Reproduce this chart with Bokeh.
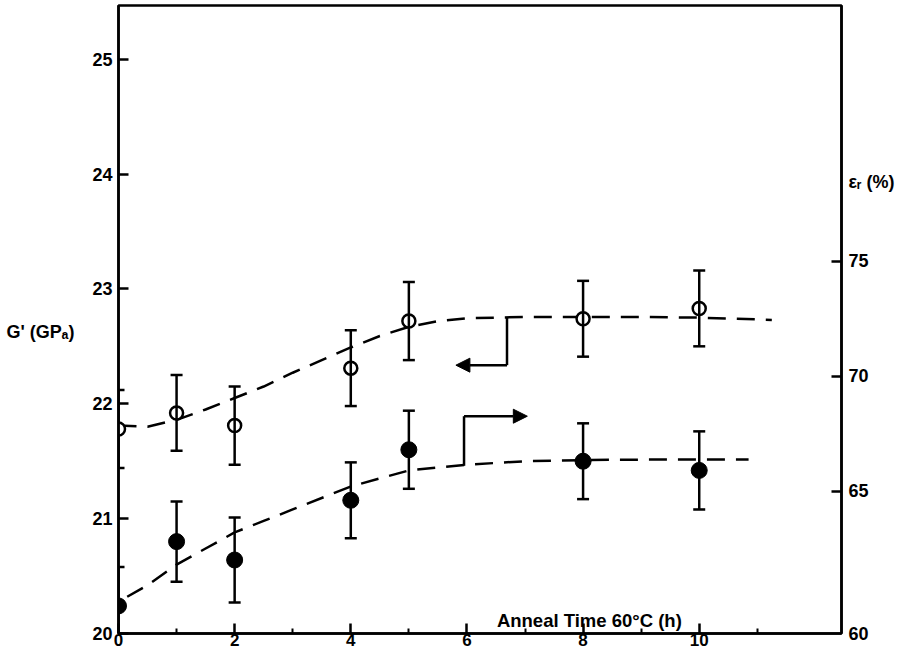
from bokeh.plotting import figure
from bokeh.models import (Range1d, LinearAxis, FixedTicker, Whisker, TeeHead,
                          ColumnDataSource, Arrow, NormalHead, Label)
from bokeh.embed import file_html
from bokeh.resources import INLINE

# ---- data ----
hours = [0, 1, 2, 4, 5, 8, 10]
shear_modulus = [21.78, 21.92, 21.81, 22.31, 22.72, 22.74, 22.83]   # G' (GPa), open circles
shear_err = [0.34, 0.33, 0.34, 0.33, 0.34, 0.33, 0.33]
strain = [60.0, 62.8, 62.0, 64.6, 66.8, 66.3, 65.9]                 # eps_r (%), filled circles
strain_err = [1.7, 1.75, 1.85, 1.65, 1.7, 1.65, 1.7]

modulus_fit_hours = [0, 0.5, 1, 1.5, 2, 2.5, 3, 3.5, 4, 4.5, 5, 5.5, 6, 7, 8, 9, 10, 11.25]
modulus_fit = [21.81, 21.80, 21.86, 21.95, 22.05, 22.15, 22.27, 22.38, 22.49, 22.59,
               22.67, 22.72, 22.745, 22.755, 22.755, 22.755, 22.75, 22.73]
strain_fit_hours = [0.15, 0.5, 1, 1.5, 2, 2.5, 3, 4, 5, 6, 7, 8, 9, 10, 10.85]
strain_fit = [60.4, 60.9, 61.8, 62.5, 63.2, 63.7, 64.2, 65.2, 65.9, 66.15, 66.3, 66.35,
              66.37, 66.38, 66.38]

modulus_bracket_x = [6.69, 6.69, 5.81]
modulus_bracket_y = [22.75, 22.336, 22.336]
strain_bracket_x = [5.95, 5.95, 7.04]
strain_bracket_y = [66.1, 68.26, 68.26]

x_ticks = [0, 2, 4, 6, 8, 10]
x_minor_ticks = [1, 3, 5, 7, 9, 11]
left_ticks = [20, 21, 22, 23, 24, 25]
right_tick_marks = [65, 70, 75]
# right-axis labels; "60" sits at the bottom corner, the axis title rides on the same axis
right_label_values = [58.8, 65, 70, 75, 78.45]
right_labels = ["60", "65", "70", "75", "εᵣ (%)"]

FONT = "Liberation Sans"

p = figure(width=900, height=650, x_range=Range1d(0, 12.45), y_range=Range1d(20, 25.467),
           output_backend="svg", toolbar_location=None,
           min_border_left=118, min_border_right=59, min_border_top=5, min_border_bottom=17)
p.extra_y_ranges = {"strain": Range1d(58.8, 86.14)}
p.xgrid.visible = False
p.ygrid.visible = False
p.outline_line_color = "black"
p.outline_line_width = 2.5
p.background_fill_color = "white"
p.border_fill_color = "white"

right_axis = LinearAxis(y_range_name="strain")
p.add_layout(right_axis, "right")

p.xaxis[0].ticker = FixedTicker(ticks=x_ticks, minor_ticks=x_minor_ticks)
p.yaxis[0].ticker = FixedTicker(ticks=left_ticks, minor_ticks=[])
right_axis.ticker = FixedTicker(ticks=right_label_values, minor_ticks=right_tick_marks)
right_axis.major_label_overrides = dict(zip(right_label_values, right_labels))

for ax in [p.xaxis[0], p.yaxis[0], right_axis]:
    ax.axis_line_width = 2.5
    ax.axis_line_color = "black"
    ax.major_tick_line_width = 2.5
    ax.major_tick_line_color = "black"
    ax.minor_tick_line_width = 2
    ax.minor_tick_line_color = "black"
    ax.major_tick_in = 10
    ax.major_tick_out = 0
    ax.minor_tick_in = 5
    ax.minor_tick_out = 0
    ax.major_label_text_font = FONT
    ax.major_label_text_font_style = "bold"
    ax.major_label_text_font_size = "18px"
    ax.major_label_text_color = "black"
p.xaxis[0].major_label_text_font_size = "17px"
p.xaxis[0].major_label_standoff = 0
p.yaxis[0].major_label_standoff = 6
# on the right axis the visible tick marks are drawn as minor ticks
right_axis.major_tick_in = 0
right_axis.minor_tick_in = 10
right_axis.minor_tick_line_width = 2.5
right_axis.major_label_standoff = 7

# fitted dashed curves
p.line(modulus_fit_hours, modulus_fit, line_color="black", line_width=2.5, line_dash="18 11")
p.line(strain_fit_hours, strain_fit, line_color="black", line_width=2.5, line_dash="18 11",
       y_range_name="strain")

# error bars
src_g = ColumnDataSource(dict(x=hours, lo=[v - e for v, e in zip(shear_modulus, shear_err)],
                              hi=[v + e for v, e in zip(shear_modulus, shear_err)]))
src_e = ColumnDataSource(dict(x=hours, lo=[v - e for v, e in zip(strain, strain_err)],
                              hi=[v + e for v, e in zip(strain, strain_err)]))
for src, rng in [(src_g, "default"), (src_e, "strain")]:
    w = Whisker(base="x", lower="lo", upper="hi", source=src, dimension="height",
                line_width=2.5, line_color="black", level="glyph",
                upper_head=TeeHead(size=12, line_width=2.5, line_color="black"),
                lower_head=TeeHead(size=12, line_width=2.5, line_color="black"),
                y_range_name=rng)
    p.add_layout(w)

# points
p.scatter(hours, strain, size=16, fill_color="black", line_color="black",
          y_range_name="strain")
p.scatter(hours, shear_modulus, size=13, fill_color="white", line_color="black",
          line_width=2.5)

# axis-indicator brackets
p.line(modulus_bracket_x[:2], modulus_bracket_y[:2], line_color="black", line_width=2.5)
p.add_layout(Arrow(end=NormalHead(size=14, fill_color="black", line_color="black", line_width=1),
                   x_start=modulus_bracket_x[1], y_start=modulus_bracket_y[1],
                   x_end=modulus_bracket_x[2], y_end=modulus_bracket_y[2],
                   line_width=2.5, line_color="black"))
p.line(strain_bracket_x[:2], strain_bracket_y[:2], line_color="black", line_width=2.5,
       y_range_name="strain")
p.add_layout(Arrow(end=NormalHead(size=14, fill_color="black", line_color="black", line_width=1),
                   x_start=strain_bracket_x[1], y_start=strain_bracket_y[1],
                   x_end=strain_bracket_x[2], y_end=strain_bracket_y[2],
                   line_width=2.5, line_color="black", y_range_name="strain"))

# texts
p.add_layout(Label(x=6.516, y=20.116, text="Anneal Time 60°C (h)", text_font=FONT,
                   text_font_style="bold", text_font_size="18.5px", text_baseline="alphabetic",
                   text_align="left", text_color="black"))
# left axis title: placed in the left side panel so that it is not clipped to the frame
p.add_layout(Label(x=-1.929, y=22.621, text="G' (GPₐ)",
                   text_font=FONT, text_font_style="bold", text_font_size="18px",
                   text_baseline="middle", text_align="left", text_color="black"), "left")

open("out.html", "w").write(file_html(p, INLINE))
